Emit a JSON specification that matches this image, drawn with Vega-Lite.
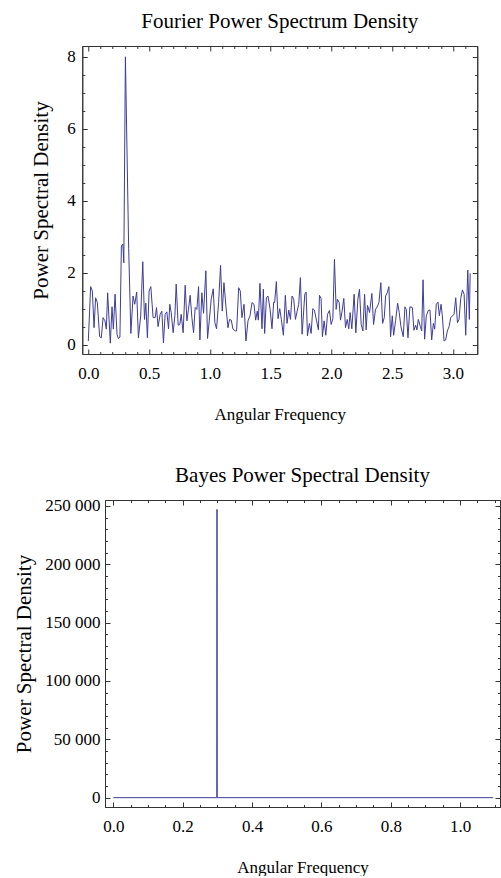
{
  "$schema": "https://vega.github.io/schema/vega-lite/v6.json",
  "background": "white",
  "padding": {"left": 13, "top": 10, "right": 0, "bottom": 0},
  "columns": 1,
  "align": "all",
  "center": true,
  "bounds": "full",
  "spacing": 41,
  "config": {
    "font": "Liberation Serif",
    "view": {"stroke": "#333", "strokeWidth": 1},
    "axis": {
      "grid": false, "domain": false,
      "labelFont": "Liberation Serif", "labelFontSize": 17, "labelColor": "#000",
      "titleFont": "Liberation Serif", "titleFontWeight": "normal", "titleColor": "#000",
      "tickColor": "#333", "tickWidth": 1, "domainColor": "#333", "domainWidth": 1,
      "labelFlush": false, "labelOverlap": false, "labelBound": false
    },
    "title": {"font": "Liberation Serif", "fontSize": 21, "fontWeight": "normal", "color": "#000", "anchor": "middle", "offset": 14}
  },
  "datasets": {
    "fourier": [
      {"w": 0.0, "p": 0.11}, {"w": 0.019, "p": 1.62}, {"w": 0.033, "p": 1.5}, {"w": 0.047, "p": 0.48},
      {"w": 0.06, "p": 1.31}, {"w": 0.074, "p": 1.18}, {"w": 0.093, "p": 0.23}, {"w": 0.107, "p": 0.2},
      {"w": 0.121, "p": 0.76}, {"w": 0.137, "p": 0.67}, {"w": 0.148, "p": 0.44}, {"w": 0.159, "p": 1.45},
      {"w": 0.181, "p": 0.05}, {"w": 0.195, "p": 1.06}, {"w": 0.206, "p": 0.44}, {"w": 0.22, "p": 1.41},
      {"w": 0.236, "p": 0.3}, {"w": 0.247, "p": 0.18}, {"w": 0.26, "p": 0.22}, {"w": 0.272, "p": 2.75},
      {"w": 0.284, "p": 2.8}, {"w": 0.292, "p": 2.28}, {"w": 0.305, "p": 8.0}, {"w": 0.332, "p": 2.67},
      {"w": 0.35, "p": 0.32}, {"w": 0.368, "p": 1.36}, {"w": 0.382, "p": 1.13}, {"w": 0.398, "p": 1.47},
      {"w": 0.412, "p": 0.2}, {"w": 0.431, "p": 0.81}, {"w": 0.448, "p": 2.31}, {"w": 0.462, "p": 0.71},
      {"w": 0.473, "p": 1.16}, {"w": 0.486, "p": 0.2}, {"w": 0.5, "p": 1.5}, {"w": 0.514, "p": 1.62},
      {"w": 0.533, "p": 0.76}, {"w": 0.55, "p": 0.76}, {"w": 0.561, "p": 1.04}, {"w": 0.574, "p": 0.51},
      {"w": 0.591, "p": 0.85}, {"w": 0.605, "p": 0.94}, {"w": 0.618, "p": 0.06}, {"w": 0.632, "p": 0.85},
      {"w": 0.646, "p": 0.92}, {"w": 0.66, "p": 0.45}, {"w": 0.67, "p": 1.13}, {"w": 0.682, "p": 0.9},
      {"w": 0.698, "p": 0.34}, {"w": 0.712, "p": 0.81}, {"w": 0.723, "p": 1.69}, {"w": 0.739, "p": 0.55},
      {"w": 0.753, "p": 0.57}, {"w": 0.764, "p": 0.85}, {"w": 0.78, "p": 0.34}, {"w": 0.797, "p": 1.66},
      {"w": 0.811, "p": 0.67}, {"w": 0.824, "p": 0.99}, {"w": 0.838, "p": 1.38}, {"w": 0.852, "p": 0.76},
      {"w": 0.866, "p": 0.34}, {"w": 0.879, "p": 1.04}, {"w": 0.893, "p": 0.99}, {"w": 0.907, "p": 1.62},
      {"w": 0.918, "p": 0.14}, {"w": 0.934, "p": 1.45}, {"w": 0.948, "p": 0.88}, {"w": 0.967, "p": 2.06},
      {"w": 0.981, "p": 0.18}, {"w": 0.995, "p": 0.67}, {"w": 1.011, "p": 1.27}, {"w": 1.028, "p": 1.56},
      {"w": 1.041, "p": 0.62}, {"w": 1.055, "p": 0.45}, {"w": 1.072, "p": 1.18}, {"w": 1.088, "p": 2.21},
      {"w": 1.102, "p": 0.94}, {"w": 1.116, "p": 1.73}, {"w": 1.132, "p": 1.08}, {"w": 1.149, "p": 0.48},
      {"w": 1.162, "p": 0.71}, {"w": 1.176, "p": 0.69}, {"w": 1.19, "p": 0.44}, {"w": 1.209, "p": 0.39},
      {"w": 1.22, "p": 0.39}, {"w": 1.237, "p": 1.59}, {"w": 1.25, "p": 1.5}, {"w": 1.264, "p": 0.76},
      {"w": 1.281, "p": 1.13}, {"w": 1.297, "p": 0.11}, {"w": 1.314, "p": 0.67}, {"w": 1.33, "p": 0.81},
      {"w": 1.347, "p": 1.18}, {"w": 1.363, "p": 1.13}, {"w": 1.377, "p": 0.69}, {"w": 1.39, "p": 0.94},
      {"w": 1.399, "p": 0.69}, {"w": 1.412, "p": 1.71}, {"w": 1.429, "p": 0.45}, {"w": 1.44, "p": 1.55},
      {"w": 1.451, "p": 0.32}, {"w": 1.465, "p": 1.31}, {"w": 1.478, "p": 1.36}, {"w": 1.495, "p": 1.01},
      {"w": 1.511, "p": 0.45}, {"w": 1.525, "p": 1.19}, {"w": 1.533, "p": 1.18}, {"w": 1.547, "p": 1.76},
      {"w": 1.561, "p": 0.73}, {"w": 1.575, "p": 1.01}, {"w": 1.588, "p": 0.71}, {"w": 1.605, "p": 0.27},
      {"w": 1.621, "p": 1.38}, {"w": 1.635, "p": 0.6}, {"w": 1.649, "p": 0.97}, {"w": 1.663, "p": 0.71},
      {"w": 1.676, "p": 1.36}, {"w": 1.69, "p": 1.27}, {"w": 1.704, "p": 0.71}, {"w": 1.717, "p": 0.92},
      {"w": 1.731, "p": 1.13}, {"w": 1.745, "p": 1.87}, {"w": 1.759, "p": 0.3}, {"w": 1.781, "p": 1.41},
      {"w": 1.792, "p": 1.47}, {"w": 1.803, "p": 0.25}, {"w": 1.819, "p": 0.6}, {"w": 1.833, "p": 0.32},
      {"w": 1.847, "p": 1.01}, {"w": 1.86, "p": 0.97}, {"w": 1.877, "p": 0.69}, {"w": 1.893, "p": 0.42},
      {"w": 1.902, "p": 1.38}, {"w": 1.915, "p": 1.29}, {"w": 1.926, "p": 0.23}, {"w": 1.94, "p": 0.67},
      {"w": 1.954, "p": 0.27}, {"w": 1.968, "p": 0.85}, {"w": 1.984, "p": 0.96}, {"w": 1.998, "p": 0.57},
      {"w": 2.012, "p": 0.73}, {"w": 2.025, "p": 2.38}, {"w": 2.039, "p": 0.99}, {"w": 2.05, "p": 1.27},
      {"w": 2.064, "p": 1.18}, {"w": 2.075, "p": 0.69}, {"w": 2.088, "p": 0.94}, {"w": 2.102, "p": 1.29},
      {"w": 2.116, "p": 0.48}, {"w": 2.13, "p": 0.71}, {"w": 2.143, "p": 0.45}, {"w": 2.154, "p": 0.9},
      {"w": 2.168, "p": 0.45}, {"w": 2.187, "p": 1.41}, {"w": 2.201, "p": 0.34}, {"w": 2.218, "p": 1.27},
      {"w": 2.231, "p": 1.55}, {"w": 2.245, "p": 0.57}, {"w": 2.259, "p": 0.39}, {"w": 2.273, "p": 1.41},
      {"w": 2.286, "p": 0.42}, {"w": 2.297, "p": 1.1}, {"w": 2.314, "p": 0.9}, {"w": 2.333, "p": 1.43},
      {"w": 2.347, "p": 0.57}, {"w": 2.363, "p": 0.99}, {"w": 2.38, "p": 1.08}, {"w": 2.391, "p": 1.18},
      {"w": 2.407, "p": 1.73}, {"w": 2.421, "p": 0.6}, {"w": 2.435, "p": 0.76}, {"w": 2.446, "p": 1.36},
      {"w": 2.459, "p": 1.45}, {"w": 2.473, "p": 1.62}, {"w": 2.487, "p": 0.23}, {"w": 2.501, "p": 0.81},
      {"w": 2.512, "p": 0.27}, {"w": 2.528, "p": 0.67}, {"w": 2.545, "p": 1.16}, {"w": 2.558, "p": 0.9},
      {"w": 2.572, "p": 0.51}, {"w": 2.591, "p": 0.23}, {"w": 2.605, "p": 1.06}, {"w": 2.616, "p": 0.99},
      {"w": 2.63, "p": 0.2}, {"w": 2.646, "p": 1.06}, {"w": 2.666, "p": 1.04}, {"w": 2.679, "p": 0.41},
      {"w": 2.693, "p": 0.55}, {"w": 2.704, "p": 0.42}, {"w": 2.715, "p": 0.71}, {"w": 2.732, "p": 0.51},
      {"w": 2.743, "p": 0.39}, {"w": 2.754, "p": 1.81}, {"w": 2.767, "p": 0.16}, {"w": 2.781, "p": 0.81},
      {"w": 2.797, "p": 0.96}, {"w": 2.811, "p": 0.97}, {"w": 2.825, "p": 0.14}, {"w": 2.839, "p": 0.6},
      {"w": 2.85, "p": 0.44}, {"w": 2.863, "p": 1.13}, {"w": 2.877, "p": 1.19}, {"w": 2.888, "p": 0.81},
      {"w": 2.902, "p": 1.13}, {"w": 2.913, "p": 0.81}, {"w": 2.927, "p": 0.11}, {"w": 2.94, "p": 0.14},
      {"w": 2.954, "p": 0.39}, {"w": 2.968, "p": 0.51}, {"w": 2.982, "p": 0.76}, {"w": 2.995, "p": 0.81},
      {"w": 3.009, "p": 0.85}, {"w": 3.023, "p": 1.31}, {"w": 3.037, "p": 0.62}, {"w": 3.05, "p": 0.71},
      {"w": 3.064, "p": 1.29}, {"w": 3.078, "p": 1.53}, {"w": 3.092, "p": 1.41}, {"w": 3.105, "p": 0.27},
      {"w": 3.122, "p": 2.08}, {"w": 3.135, "p": 0.71}, {"w": 3.1416, "p": 1.99}
    ],
    "bayes": [
      {"w": 0.0, "p": 0}, {"w": 0.2985, "p": 0}, {"w": 0.299, "p": 247000}, {"w": 0.2995, "p": 0}, {"w": 1.095, "p": 0}
    ]
  },
  "concat": [
    {
      "title": {"text": "Fourier Power Spectrum Density", "offset": 14},
      "width": 395,
      "height": 308,
      "data": {"name": "fourier"},
      "resolve": {"scale": {"x": "independent", "y": "independent"}, "axis": {"x": "independent", "y": "independent"}},
      "layer": [
        {
          "mark": {"type": "line", "color": "#3d3d99", "strokeWidth": 1, "clip": true},
          "encoding": {
            "x": {"field": "w", "type": "quantitative",
              "scale": {"domain": [-0.05, 3.2], "nice": false, "zero": false},
              "axis": {"orient": "bottom", "title": "Angular Frequency", "titleFontSize": 17, "titlePadding": 25, "labelPadding": 16,
                "domain": true, "tickSize": -5, "format": ".1f",
                "values": [0, 0.5, 1, 1.5, 2, 2.5, 3]}},
            "y": {"field": "p", "type": "quantitative",
              "scale": {"domain": [-0.25, 8.3], "nice": false, "zero": false},
              "axis": {"orient": "left", "title": "Power Spectral Density", "titleFontSize": 21, "titlePadding": 15, "labelPadding": 12,
                "domain": true, "tickSize": -5,
                "labelExpr": "format(datum.value, '.0f')",
                "values": [0, 2, 4, 6, 8]}}
          }
        },
        {
          "mark": {"type": "line", "strokeOpacity": 0},
          "encoding": {
            "x": {"field": "w", "type": "quantitative",
              "scale": {"domain": [-0.05, 3.2], "nice": false, "zero": false},
              "axis": {"orient": "bottom", "title": null, "labels": false, "tickSize": -2.5,
                "values": [0.1,0.2,0.3,0.4,0.6,0.7,0.8,0.9,1.1,1.2,1.3,1.4,1.6,1.7,1.8,1.9,2.1,2.2,2.3,2.4,2.6,2.7,2.8,2.9,3.1]}},
            "y": {"field": "p", "type": "quantitative",
              "scale": {"domain": [-0.25, 8.3], "nice": false, "zero": false},
              "axis": {"orient": "left", "title": null, "labels": false, "tickSize": -2.5,
                "values": [0.5,1,1.5,2.5,3,3.5,4.5,5,5.5,6.5,7,7.5]}}
          }
        },
        {
          "mark": {"type": "line", "strokeOpacity": 0},
          "encoding": {
            "x": {"field": "w", "type": "quantitative",
              "scale": {"domain": [-0.05, 3.2], "nice": false, "zero": false},
              "axis": {"orient": "top", "title": null, "labels": false, "domain": true, "tickSize": -5,
                "values": [0, 0.5, 1, 1.5, 2, 2.5, 3]}},
            "y": {"field": "p", "type": "quantitative",
              "scale": {"domain": [-0.25, 8.3], "nice": false, "zero": false},
              "axis": {"orient": "right", "title": null, "labels": false, "domain": true, "tickSize": -5,
                "values": [0, 2, 4, 6, 8]}}
          }
        },
        {
          "mark": {"type": "line", "strokeOpacity": 0},
          "encoding": {
            "x": {"field": "w", "type": "quantitative",
              "scale": {"domain": [-0.05, 3.2], "nice": false, "zero": false},
              "axis": {"orient": "top", "title": null, "labels": false, "tickSize": -2.5,
                "values": [0.1,0.2,0.3,0.4,0.6,0.7,0.8,0.9,1.1,1.2,1.3,1.4,1.6,1.7,1.8,1.9,2.1,2.2,2.3,2.4,2.6,2.7,2.8,2.9,3.1]}},
            "y": {"field": "p", "type": "quantitative",
              "scale": {"domain": [-0.25, 8.3], "nice": false, "zero": false},
              "axis": {"orient": "right", "title": null, "labels": false, "tickSize": -2.5,
                "values": [0.5,1,1.5,2.5,3,3.5,4.5,5,5.5,6.5,7,7.5]}}
          }
        },
        {
          "mark": {"type": "line", "strokeOpacity": 0},
          "encoding": {
            "x": {"field": "w", "type": "quantitative",
              "scale": {"domain": [-0.05, 3.2], "nice": false, "zero": false},
              "axis": null},
            "y": {"field": "p", "type": "quantitative",
              "scale": {"domain": [-0.25, 8.3], "nice": false, "zero": false},
              "axis": {"orient": "right", "title": null, "labels": false, "domain": false, "tickSize": 46, "tickOpacity": 0,
                "values": [4]}}
          }
        }
      ]
    },
    {
      "title": {"text": "Bayes Power Spectral Density", "offset": 11},
      "width": 395,
      "height": 307,
      "data": {"name": "bayes"},
      "resolve": {"scale": {"x": "independent", "y": "independent"}, "axis": {"x": "independent", "y": "independent"}},
      "layer": [
        {
          "mark": {"type": "line", "color": "#3d3d99", "strokeWidth": 1, "clip": true},
          "encoding": {
            "x": {"field": "w", "type": "quantitative",
              "scale": {"domain": [-0.024, 1.115], "nice": false, "zero": false},
              "axis": {"orient": "bottom", "title": "Angular Frequency", "titleFontSize": 17, "titlePadding": 25, "labelPadding": 16,
                "domain": true, "tickSize": -5, "format": ".1f",
                "values": [0, 0.2, 0.4, 0.6, 0.8, 1.0]}},
            "y": {"field": "p", "type": "quantitative",
              "scale": {"domain": [-8000, 255000], "nice": false, "zero": false},
              "axis": {"orient": "left", "title": "Power Spectral Density", "titleFontSize": 21, "titlePadding": 10, "labelPadding": 10,
                "domain": true, "tickSize": -5,
                "labelExpr": "replace(format(datum.value, ','), ',', ' ')",
                "values": [0, 50000, 100000, 150000, 200000, 250000]}}
          }
        },
        {
          "mark": {"type": "line", "strokeOpacity": 0},
          "encoding": {
            "x": {"field": "w", "type": "quantitative",
              "scale": {"domain": [-0.024, 1.115], "nice": false, "zero": false},
              "axis": {"orient": "bottom", "title": null, "labels": false, "tickSize": -2.5,
                "values": [0.05,0.1,0.15,0.25,0.3,0.35,0.45,0.5,0.55,0.65,0.7,0.75,0.85,0.9,0.95,1.05,1.1]}},
            "y": {"field": "p", "type": "quantitative",
              "scale": {"domain": [-8000, 255000], "nice": false, "zero": false},
              "axis": {"orient": "left", "title": null, "labels": false, "tickSize": -2.5,
                "values": [10000,20000,30000,40000,60000,70000,80000,90000,110000,120000,130000,140000,160000,170000,180000,190000,210000,220000,230000,240000]}}
          }
        },
        {
          "mark": {"type": "line", "strokeOpacity": 0},
          "encoding": {
            "x": {"field": "w", "type": "quantitative",
              "scale": {"domain": [-0.024, 1.115], "nice": false, "zero": false},
              "axis": {"orient": "top", "title": null, "labels": false, "domain": true, "tickSize": -5,
                "values": [0, 0.2, 0.4, 0.6, 0.8, 1.0]}},
            "y": {"field": "p", "type": "quantitative",
              "scale": {"domain": [-8000, 255000], "nice": false, "zero": false},
              "axis": {"orient": "right", "title": null, "labels": false, "domain": true, "tickSize": -5,
                "values": [0, 50000, 100000, 150000, 200000, 250000]}}
          }
        },
        {
          "mark": {"type": "line", "strokeOpacity": 0},
          "encoding": {
            "x": {"field": "w", "type": "quantitative",
              "scale": {"domain": [-0.024, 1.115], "nice": false, "zero": false},
              "axis": {"orient": "top", "title": null, "labels": false, "tickSize": -2.5,
                "values": [0.05,0.1,0.15,0.25,0.3,0.35,0.45,0.5,0.55,0.65,0.7,0.75,0.85,0.9,0.95,1.05,1.1]}},
            "y": {"field": "p", "type": "quantitative",
              "scale": {"domain": [-8000, 255000], "nice": false, "zero": false},
              "axis": {"orient": "right", "title": null, "labels": false, "tickSize": -2.5,
                "values": [10000,20000,30000,40000,60000,70000,80000,90000,110000,120000,130000,140000,160000,170000,180000,190000,210000,220000,230000,240000]}}
          }
        }
      ]
    }
  ]
}
